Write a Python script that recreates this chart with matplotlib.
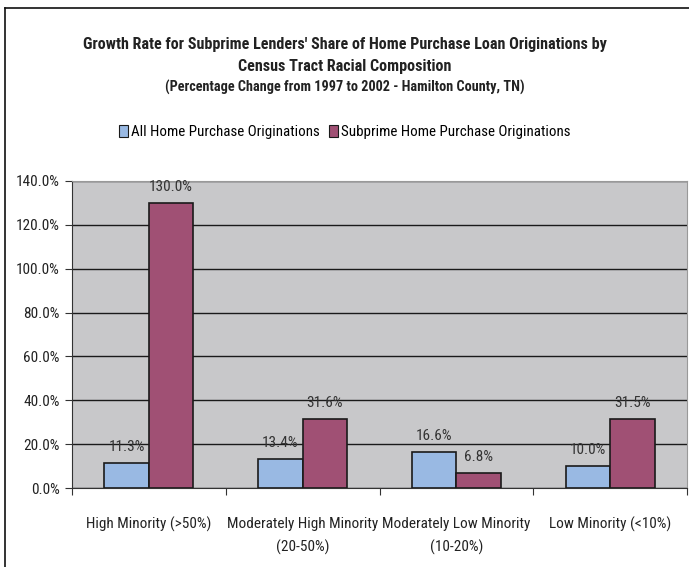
import matplotlib.pyplot as plt
import numpy as np
from matplotlib.lines import Line2D

categories = ['High Minority (>50%)', 'Moderately High Minority\n(20-50%)',
              'Moderately Low Minority\n(10-20%)', 'Low Minority (<10%)']
all_orig = [11.3, 13.4, 16.6, 10.0]
subprime_orig = [130.0, 31.6, 6.8, 31.5]
series_names = ['All Home Purchase Originations', 'Subprime Home Purchase Originations']

plt.rcParams['font.family'] = ['Roboto Condensed', 'DejaVu Sans']

fig = plt.figure(figsize=(6.89, 5.67), dpi=100)
ax = fig.add_axes([72 / 689, 1 - 488 / 567, 615 / 689, 307 / 567])

x = np.arange(len(categories))
w = 0.29
b1 = ax.bar(x - w / 2, all_orig, w, color='#99b9e3', edgecolor='#1a1a1a', linewidth=1.2, zorder=3)
b2 = ax.bar(x + w / 2, subprime_orig, w, color='#a05074', edgecolor='#1a1a1a', linewidth=1.2, zorder=3)

for bars, vals in [(b1, all_orig), (b2, subprime_orig)]:
    for r, v in zip(bars, vals):
        ax.text(r.get_x() + r.get_width() / 2, v + 4, f'{v:.1f}%', ha='center', va='bottom',
                fontsize=11, color='#333333', zorder=4)

ax.set_xlim(-0.5, len(categories) - 0.5)
ax.set_ylim(0, 140)
ax.set_yticks(np.arange(0, 141, 20))
ax.set_yticklabels([f'{v:.1f}%' for v in np.arange(0, 141, 20)], fontsize=11, color='#222222')
ax.set_facecolor('#c8c8ca')
ax.grid(axis='y', color='#1a1a1a', linewidth=1.0, zorder=1)

ax.set_xticks(np.arange(-0.5, len(categories), 1.0))
ax.set_xticklabels([])
ax.set_xticks(x, minor=True)
ax.set_xticklabels(categories, minor=True, fontsize=11, color='#222222', linespacing=1.75)
ax.tick_params(axis='x', which='minor', length=0, pad=21)
ax.tick_params(axis='x', which='major', length=5, direction='out', color='#333333')
ax.tick_params(axis='y', length=5, direction='out', color='#333333', pad=4)

for s in ['top', 'right']:
    ax.spines[s].set_color('#999999')
for s in ['left', 'bottom']:
    ax.spines[s].set_color('#333333')

fig.text(345 / 689, 1 - 44 / 567,
         "Growth Rate for Subprime Lenders' Share of Home Purchase Loan Originations by",
         ha='center', va='center', fontsize=11.6, fontweight='bold', color='#222222')
fig.text(345 / 689, 1 - 67 / 567, 'Census Tract Racial Composition',
         ha='center', va='center', fontsize=11.6, fontweight='bold', color='#222222')
fig.text(345 / 689, 1 - 87 / 567, '(Percentage Change from 1997 to 2002 - Hamilton County, TN)',
         ha='center', va='center', fontsize=10.3, fontweight='bold', color='#222222')

handles = [plt.Rectangle((0, 0), 1, 1, facecolor='#99b9e3', edgecolor='#1a1a1a', linewidth=0.8),
           plt.Rectangle((0, 0), 1, 1, facecolor='#a05074', edgecolor='#1a1a1a', linewidth=0.8)]
fig.legend(handles, series_names, loc='center', bbox_to_anchor=(345 / 689, 1 - 132 / 567),
           ncol=2, frameon=False, fontsize=10.8, handlelength=0.6, handleheight=0.9,
           handletextpad=0.2, columnspacing=0.6)

fig.add_artist(Line2D([5 / 689, 5 / 689], [0, 1 - 8 / 567], color='#111111', linewidth=1.2,
                      transform=fig.transFigure))
fig.add_artist(Line2D([5 / 689, 1], [1 - 8 / 567, 1 - 8 / 567], color='#111111', linewidth=1.2,
                      transform=fig.transFigure))

fig.savefig('out.png', dpi=100)
